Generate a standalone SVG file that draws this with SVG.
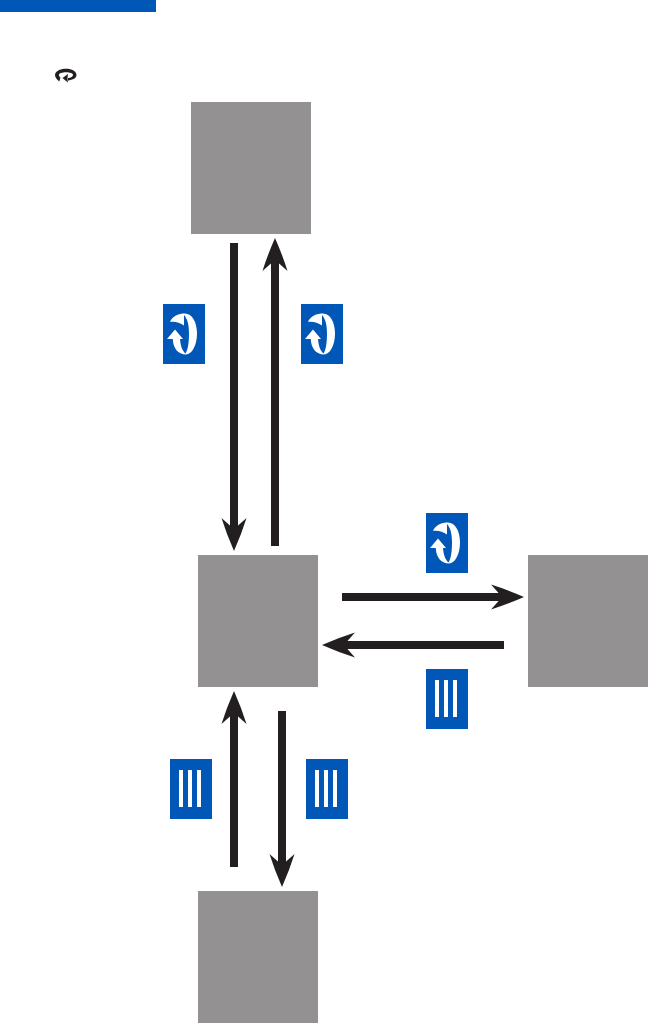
<svg xmlns="http://www.w3.org/2000/svg" width="648" height="1023" viewBox="0 0 648 1023">
<style>
.node{fill:#939192}
.badge{fill:#0057b8}
.glyph{fill:#fff}
.line{stroke:#231f20;stroke-width:8;fill:none}
.head{fill:#231f20}
</style>
<defs>
<path id="h" class="head" d="M0 0Q-17 -7.500 -33 -12.500L-25 -3.500L-25 3.500L-33 12.500Q-17 7.500 0 0Z"/>
<g id="rot">
<rect class="badge" width="42" height="60"/>
<path class="glyph" d="M7 18C9 12 16 9.500 22 9.500C29 9.500 34 18 34 29.500C34 41 29 50.500 23 50.500C15 50.500 10 44 9.800 35L4 35L12 25.500L20 35L17 35C17.500 41 19 46.500 22.500 49.500C25 46 26 38 26 29.500C26 21 24.500 15 21 11L21 21.500C17 18.500 11 17 7 18Z"/>
</g>
<g id="bars">
<rect class="badge" width="42" height="60"/>
<rect class="glyph" x="9" y="11" width="4" height="37"/>
<rect class="glyph" x="18" y="11" width="4" height="37"/>
<rect class="glyph" x="27" y="11" width="4" height="37"/>
</g>
</defs>
<rect id="header-bar" class="badge" x="0" y="0" width="156" height="12"/>
<g id="legend-icon" fill="#231f20">
<path d="M55 75C55 71.500 60 68.800 66 68.800C72 68.800 76.500 71.500 76.500 75C76.500 78 73 80 68 80.500L68 78C71 78 73 76.500 73 75C73 73.200 70 72.300 66 72.300C62 72.300 59 73.200 59 75C59 76 59.500 77 60.500 77.500L59.300 81.500C57 79.500 55 77.500 55 75Z"/>
<path d="M62.500 78L68 74L67.500 78L67.800 82.500Z"/>
</g>
<g id="node-top"><rect class="node" x="191" y="102" width="120" height="132"/></g>
<g id="node-middle"><rect class="node" x="198" y="555" width="120" height="132"/></g>
<g id="node-right"><rect class="node" x="528" y="555" width="120" height="132"/></g>
<g id="node-bottom"><rect class="node" x="198" y="891" width="120" height="132"/></g>
<g id="connectors">
<path class="line" d="M234 243V529"/><use href="#h" transform="translate(234 551) rotate(90)"/>
<path class="line" d="M275 546V260"/><use href="#h" transform="translate(275 238) rotate(-90)"/>
<path class="line" d="M342 597H503"/><use href="#h" transform="translate(524 597)"/>
<path class="line" d="M504 645H343"/><use href="#h" transform="translate(322 645) rotate(180)"/>
<path class="line" d="M234 867V712"/><use href="#h" transform="translate(234 691) rotate(-90)"/>
<path class="line" d="M282 711V866"/><use href="#h" transform="translate(282 887) rotate(90)"/>
</g>
<g id="badge-1"><use href="#rot" x="163" y="304"/></g>
<g id="badge-2"><use href="#rot" x="301" y="304"/></g>
<g id="badge-3"><use href="#rot" x="426" y="513"/></g>
<g id="badge-4"><use href="#bars" x="426" y="669"/></g>
<g id="badge-5"><use href="#bars" x="170" y="759"/></g>
<g id="badge-6"><use href="#bars" x="306" y="759"/></g>
</svg>
